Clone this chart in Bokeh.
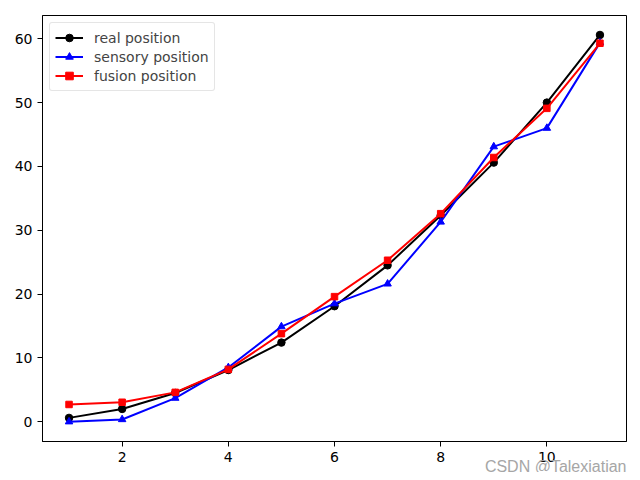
from bokeh.plotting import figure
from bokeh.models import FixedTicker, Range1d, Title
from bokeh.embed import file_html
from bokeh.resources import INLINE

steps = [1, 2, 3, 4, 5, 6, 7, 8, 9, 10, 11]
real_pos = [0.6, 2.0, 4.5, 8.1, 12.4, 18.1, 24.5, 32.3, 40.6, 50.0, 60.6]
sensory_pos = [0.0, 0.35, 3.7, 8.5, 14.9, 18.5, 21.6, 31.3, 43.1, 46.0, 59.4]
fusion_pos = [2.7, 3.05, 4.6, 8.2, 13.8, 19.6, 25.3, 32.6, 41.4, 49.1, 59.3]
x_ticks = [2, 4, 6, 8, 10]
y_ticks = [0, 10, 20, 30, 40, 50, 60]
watermark = "CSDN @Talexiatian"

FONT = "DejaVu Sans"

p = figure(width=632, height=472, output_backend="svg", toolbar_location=None,
           x_range=Range1d(0.5, 11.5), y_range=Range1d(-3.1, 63.65),
           min_border_left=42, min_border_right=6, min_border_top=15, min_border_bottom=31)

p.xgrid.visible = False
p.ygrid.visible = False
p.outline_line_color = "black"
p.outline_line_width = 1
p.background_fill_color = "white"
p.border_fill_color = "white"

for ax in (p.xaxis[0], p.yaxis[0]):
    ax.axis_line_color = "black"
    ax.major_tick_out = 5
    ax.major_tick_in = 0
    ax.minor_tick_line_color = None
    ax.major_label_text_font = FONT
    ax.major_label_text_font_size = "14px"
    ax.major_label_text_color = "black"
    ax.major_label_standoff = 5
p.xaxis[0].ticker = FixedTicker(ticks=x_ticks)
p.yaxis[0].ticker = FixedTicker(ticks=y_ticks)

wm = Title(text=watermark, align="right", standoff=-21,
           text_font="Liberation Sans", text_font_style="normal",
           text_font_size="16px", text_color="#a6a6a6")
p.add_layout(wm, "below")

series = [
    (real_pos, "black", "circle", 7.5, "real position"),
    (sensory_pos, "#0000ff", "triangle", 7.5, "sensory position"),
    (fusion_pos, "#ff0000", "square", 6.5, "fusion position"),
]
for ys, col, mk, sz, lab in series:
    p.line(steps, ys, line_color=col, line_width=2, legend_label=lab)
    p.scatter(steps, ys, marker=mk, size=sz, fill_color=col, line_color=col, legend_label=lab)

lg = p.legend[0]
lg.location = "top_left"
lg.margin = 7
lg.padding = 5
lg.spacing = 0
lg.label_text_font = FONT
lg.label_text_font_size = "14px"
lg.label_height = 19
lg.glyph_height = 19
lg.glyph_width = 28
lg.label_standoff = 11
lg.border_line_color = "#cccccc"
lg.border_line_width = 1
lg.border_radius = 3
lg.background_fill_alpha = 0.8

open("out.html", "w").write(file_html(p, INLINE))
